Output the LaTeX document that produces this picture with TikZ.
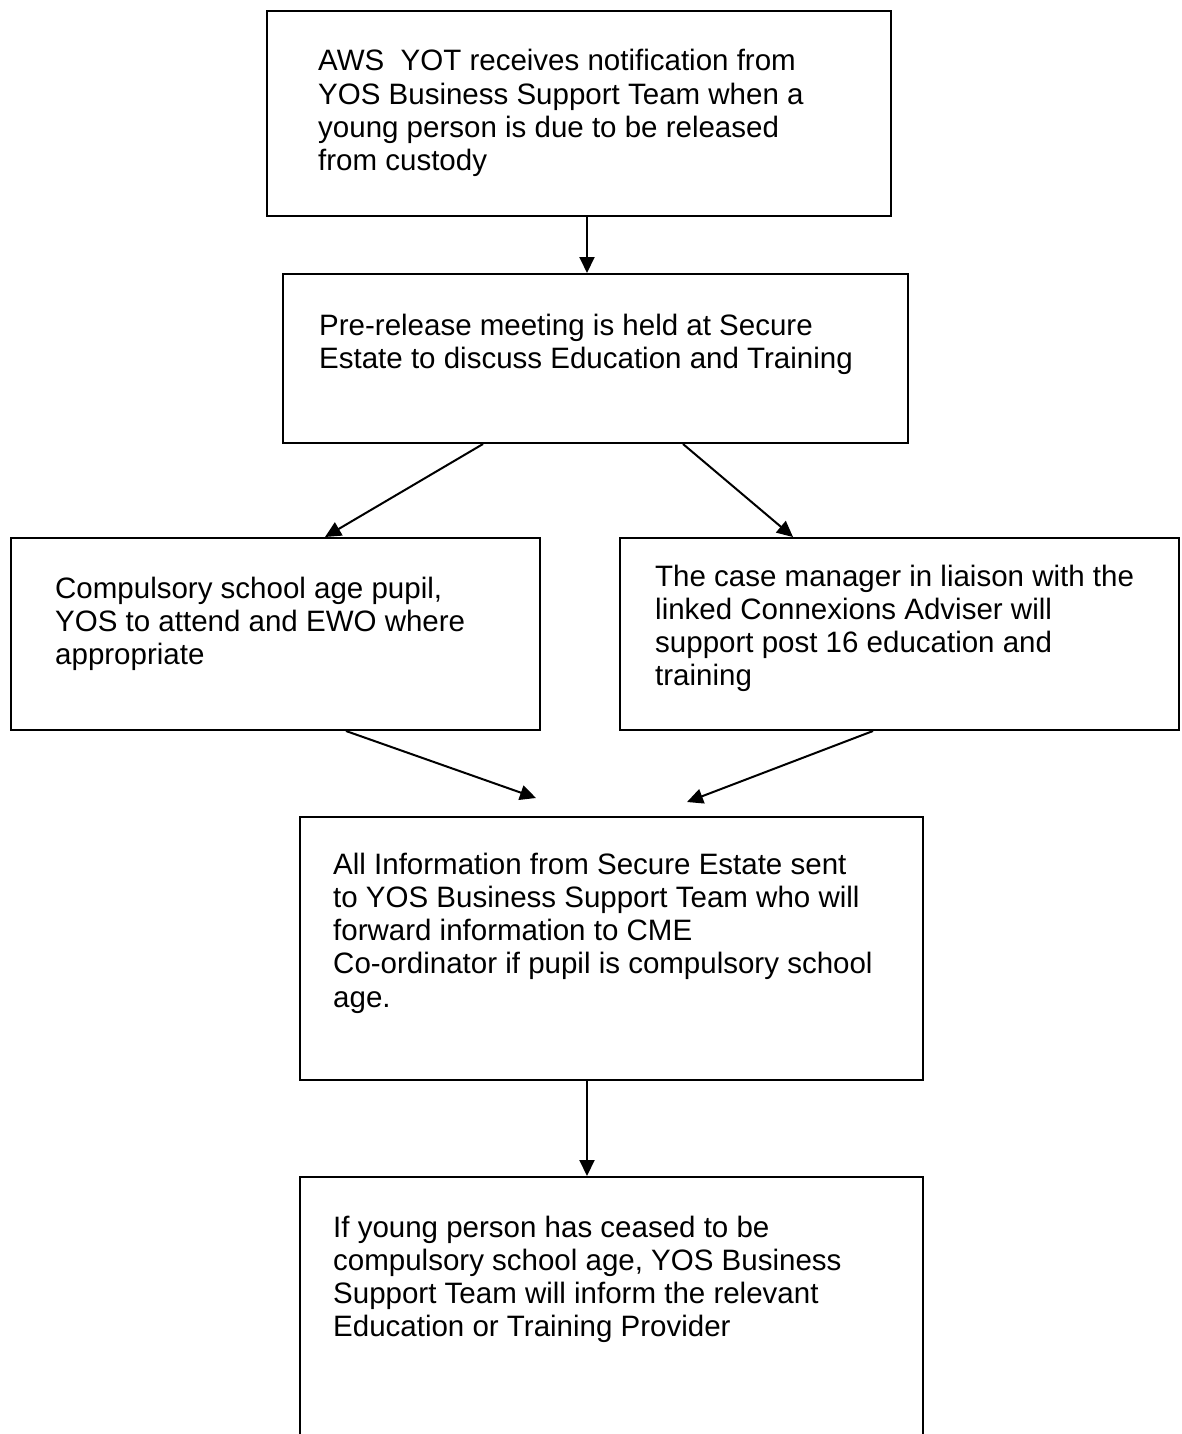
\documentclass[tikz,border=0pt]{standalone}
\usepackage{fontspec}
\setmainfont{Liberation Sans}
\usetikzlibrary{arrows.meta}
\tikzset{
  box/.style={draw=black, line width=2pt, rectangle, inner sep=0pt, anchor=north west, fill=none},
  txt/.style={anchor=base west, inner sep=0pt, align=left, font=\fontsize{29.5}{33.3}\selectfont},
  arr/.style={draw=black, line width=2pt, -{Triangle[length=16pt,width=15pt]}}
}
\begin{document}
\begin{tikzpicture}[x=1pt,y=-1pt]
\useasboundingbox (0,0) rectangle (1181,1434);
\clip (0,0) rectangle (1181,1434);
\fill[white] (0,0) rectangle (1181,1434);
% boxes
\node[box, minimum width=624pt, minimum height=205pt] (b1) at (266,10) {};
\node[box, minimum width=625pt, minimum height=169pt] (b2) at (282,273) {};
\node[box, minimum width=529pt, minimum height=192pt] (b3) at (10,537) {};
\node[box, minimum width=559pt, minimum height=192pt] (b4) at (619,537) {};
\node[box, minimum width=623pt, minimum height=263pt] (b5) at (299,816) {};
\node[box, minimum width=623pt, minimum height=320pt] (b6) at (299,1176) {};
% texts (anchored at the baseline of their last line)
\node[txt] (t1) at (318,170.9) {AWS\ \ YOT receives notification from\\YOS Business Support Team when a\\young person is due to be released\\from custody};
\node[txt] (t2) at (319,368.3) {Pre-release meeting is held at Secure\\Estate to discuss Education and Training};
\node[txt] (t3) at (55,664.6) {Compulsory school age pupil,\\YOS to attend and EWO where\\appropriate};
\node[txt] (t4) at (655,685.9) {The case manager in liaison with the\\linked Connexions Adviser will\\support post 16 education and\\training};
\node[txt] (t5) at (333,1007.2) {All Information from Secure Estate sent\\to YOS Business Support Team who will\\forward information to CME\\Co-ordinator if pupil is compulsory school\\age.};
\node[txt] (t6) at (333,1336.9) {If young person has ceased to be\\compulsory school age, YOS Business\\Support Team will inform the relevant\\Education or Training Provider};
% free ends
\coordinate (c1) at (536,798);
\coordinate (c2) at (687,802);
% connectors
\draw[arr] ([xshift=321pt]b1.south west) -- ([xshift=305pt]b2.north west);
\draw[arr] ([xshift=201pt]b2.south west) -- ([xshift=315pt]b3.north west);
\draw[arr] ([xshift=401pt]b2.south west) -- ([xshift=174pt]b4.north west);
\draw[arr] ([xshift=336pt]b3.south west) -- (c1);
\draw[arr] ([xshift=254pt]b4.south west) -- (c2);
\draw[arr] ([xshift=288pt]b5.south west) -- ([xshift=288pt]b6.north west);
\end{tikzpicture}
\end{document}
